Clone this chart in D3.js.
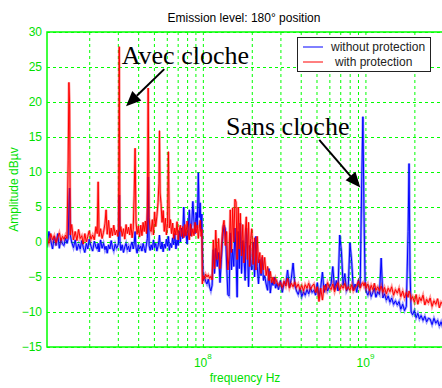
<!DOCTYPE html>
<html>
<head>
<meta charset="utf-8">
<script src="https://cdn.jsdelivr.net/npm/d3@7"></script>
<style>
  body { margin: 0; background: #fff; }
  svg { display: block; font-family: "Liberation Sans", Arial, sans-serif; }
</style>
</head>
<body>
<div id="chart"></div>
<script>

// frequency grid in MHz, shared by both traces
const freqMHz = [
  11.0, 11.3, 11.6, 11.9, 12.2, 12.5, 12.8, 13.1, 13.4, 13.7,
  14.0, 14.3, 14.6, 14.85, 15.0, 15.15, 15.3, 15.6, 16.0, 16.4,
  16.8, 17.2, 17.6, 18.0, 18.4, 18.8, 19.2, 19.6, 20.0, 20.5,
  21.0, 21.5, 22.0, 22.4, 22.7, 23.0, 23.5, 24.0, 24.5, 25.0,
  25.4, 25.8, 26.3, 26.8, 27.3, 27.8, 28.3, 28.9, 29.5, 30.0,
  30.3, 30.6, 30.9, 31.3, 31.9, 32.5, 33.1, 33.7, 34.3, 34.9,
  35.5, 36.1, 36.7, 37.3, 37.8, 38.3, 38.8, 39.4, 40.1, 40.8,
  41.5, 42.2, 42.9, 43.6, 44.3, 45.0, 45.6, 46.1, 46.7, 47.4,
  48.1, 48.9, 49.7, 50.5, 51.3, 52.1, 53.0, 53.7, 54.1, 54.6,
  55.3, 56.1, 57.0, 57.9, 58.8, 59.7, 60.6, 61.4, 62.2, 63.2,
  64.2, 65.2, 66.2, 67.2, 68.3, 69.4, 70.5, 71.6, 72.7, 73.9,
  75.1, 76.3, 77.5, 78.7, 80.0, 81.3, 82.6, 84.0, 85.4, 86.8,
  88.2, 89.6, 91.0, 92.4, 93.8, 95.0, 96.3, 97.5, 98.6, 99.3,
  100.5, 102, 104, 106, 108, 110, 112, 114, 116, 118,
  120, 122.5, 125, 127.5, 130, 132.5, 135, 137.5, 140, 142.5,
  145, 147.5, 150, 152.5, 155, 157.5, 160, 162.5, 165, 167.5,
  170, 173, 176, 179, 182, 185, 188, 191, 194, 197,
  200, 204, 208, 212, 216, 220, 224, 228, 232, 236,
  240, 245, 250, 255, 260, 265, 270, 275, 280, 286,
  292, 300, 308, 316, 324, 332, 341, 350, 359, 368,
  377, 386, 396, 406, 416, 426, 437, 448, 459, 470,
  482, 494, 506, 518, 531, 544, 557, 571, 585, 600,
  615, 630, 646, 662, 678, 695, 712, 729, 747, 765,
  784, 803, 823, 843, 864, 885, 906, 928, 950, 965,
  980, 995, 1010, 1035, 1060, 1085, 1110, 1135, 1160, 1190,
  1220, 1250, 1280, 1310, 1345, 1380, 1415, 1450, 1490, 1530,
  1570, 1610, 1650, 1695, 1740, 1785, 1830, 1855, 1880, 1910,
  1950, 2000, 2050, 2100, 2150, 2200, 2260, 2320, 2380, 2440,
  2500, 2570, 2640, 2710, 2780, 2850, 2920, 3000
];

// amplitude dBuV, blue trace
const withoutProtection = [
  -0.8, 1.5, 0.2, -1.0, 0.8, -0.5, 1.2, -0.9, 0.5, -0.3,
  -0.5, 0.6, -0.2, 0.5, 5.0, 7.7, 1.0, 0.0, -0.8, 0.3,
  -1.2, -0.3, -1.0, 0.2, -0.8, -1.5, -0.2, -1.0, 0.4, -0.6,
  -1.3, 0.1, -0.7, -1.0, -0.2, -1.4, 0.3, -0.9, -0.2, -1.1,
  -0.6, -1.6, -0.4, -1.0, 0.2, -0.8, -1.3, -0.3, -0.9, -0.5,
  -0.2, 6.7, 0.1, -1.2, -0.4, -1.5, -0.7, -0.2, -1.1, -0.6,
  -1.4, -0.5, 0.0, -1.0, -0.3, 1.5, -0.8, -1.6, -0.4, -1.0,
  -0.6, -1.3, -0.2, -0.9, -1.5, -0.3, 0.5, 9.3, -0.5, -1.2,
  -0.4, -1.1, 0.3, -0.8, -0.2, -1.3, -0.6, 0.2, 1.0, -0.5,
  -1.0, 0.0, -1.4, -0.3, -0.9, 0.4, -0.6, 0.8, -1.2, -0.2,
  -0.8, 0.6, -0.4, 1.2, -1.0, 0.3, -0.5, 1.6, 0.0, 2.0,
  0.5, 5.0, 0.8, 1.5, -0.3, 2.0, 4.6, 0.9, 2.5, 5.8,
  3.0, 1.2, 4.2, 2.0, 9.9, 3.5, 5.6, 1.5, 4.0, -1.0,
  -5.5, -4.9, -5.6, -6.0, -5.3, -6.4, -7.0, -6.2, -1.1, -4.5,
  -0.9, -3.5, -1.5, -5.8, -2.5, 0.8, 2.4, 1.9, -3.0, -7.5,
  -7.7, 1.3, -4.0, -1.0, -3.5, 2.0, -2.0, -7.9, 1.5, -3.8,
  2.7, -4.5, 0.2, -2.0, -5.5, 2.0, -1.0, -6.4, -0.5, -3.0,
  -4.0, 0.0, -5.0, 0.8, -3.5, -6.0, -2.5, -4.8, -2.2, -5.5,
  -4.8, -6.0, -6.9, -3.8, -7.3, -5.5, -6.2, -5.0, -6.6, -5.9,
  -6.8, -5.5, -7.2, -5.8, -6.0, -4.0, -6.5, -5.2, -3.0, -6.2,
  -7.0, -7.5, -6.6, -7.8, -7.1, -7.6, -6.8, -7.4, -6.5, -7.2,
  -6.9, -7.6, -5.8, -7.8, -6.5, -4.3, -7.2, -6.0, -7.0, -6.4,
  -6.0, -3.5, -6.8, -5.5, -7.0, 1.0, -1.4, -6.2, -4.5, -7.0,
  -6.5, -0.1, -2.8, -6.9, -6.0, -7.2, -5.4, -6.5, 9.3, 17.9,
  4.0, -5.5, -7.0, -7.6, -6.8, -7.8, -7.2, -6.6, -7.9, -7.1,
  -7.5, -2.3, -8.0, -7.4, -8.3, -7.7, -8.6, -8.0, -8.9, -8.4,
  -9.0, -8.5, -9.6, -8.9, -9.8, -9.2, 1.5, 11.2, -4.0, -10.0,
  -10.4, -9.8, -10.8, -10.2, -11.0, -10.5, -11.2, -10.6, -11.4, -10.9,
  -11.0, -11.8, -10.9, -11.6, -11.2, -12.0, -11.4, -12.3
];

// amplitude dBuV, red trace
const withProtection = [
  0.5, -0.2, 1.2, 0.3, 0.9, -0.1, 0.6, 1.3, 0.2, 0.8,
  0.4, 1.0, 0.5, 11.7, 22.8, 19.8, 1.0, 2.5, 0.3, 1.5,
  0.2, 1.8, 0.5, 0.9, -0.3, 1.2, 0.0, 0.8, 1.6, 0.4,
  1.0, 0.3, 2.2, 1.2, 8.6, 0.8, 1.9, 0.5, 1.4, 2.6,
  4.6, 1.1, 3.1, 0.6, 2.0, 0.9, 2.4, 1.0, 1.7, 0.8,
  2.0, 27.9, 1.5, 2.2, 0.8, 1.9, 0.4, 2.5, 1.2, 2.1,
  1.0, 2.6, 0.6, 1.8, 6.7, 13.4, 2.9, 1.1, 2.3, 0.7,
  2.4, 0.9, 2.8, 1.5, 3.0, 1.2, 5.0, 22.0, 3.5, 1.8,
  1.5, 3.2, 1.0, 4.3, 2.2, 3.6, 5.6, 8.4, 15.9, 7.0,
  5.5, 2.8, 4.5, 1.5, 3.4, 1.0, 2.6, 12.9, 2.0, 3.2,
  1.2, 2.7, 0.5, 2.0, 1.0, 2.9, 0.3, 1.7, 2.4, 0.8,
  2.2, 0.6, 2.5, 0.9, 3.0, 1.4, 0.3, 2.6, 0.8, 1.9,
  0.9, 2.8, 1.3, 2.4, 0.5, 2.0, 3.1, 0.8, 1.8, -6.0,
  -4.8, -5.3, -4.6, -5.0, -4.7, -5.2, -4.9, -5.4, 0.3, -3.8,
  1.7, -2.5, 0.5, -3.8, -1.0, 2.0, 3.1, -0.5, 1.5, -4.0,
  -2.0, 4.6, -1.5, 4.9, 0.0, 6.1, 5.7, -2.5, 5.0, -1.0,
  4.1, -2.0, 2.5, -3.0, 1.0, 3.6, -2.5, 2.8, -3.5, 0.5,
  1.9, -3.2, 0.6, -4.0, 0.8, -3.0, -1.5, -4.5, -1.9, -4.0,
  -2.2, -4.8, -3.5, -5.5, -4.2, -5.8, -5.0, -6.0, -5.2, -5.8,
  -6.2, -5.8, -6.5, -5.6, -6.3, -5.2, -6.6, -5.9, -6.4, -5.7,
  -6.5, -6.0, -6.8, -6.2, -7.0, -6.1, -6.6, -5.9, -6.8, -6.3,
  -6.0, -7.2, -6.4, -8.5, -6.6, -8.3, -6.2, -6.9, -5.8, -6.5,
  -6.8, -6.0, -7.1, -6.3, -5.8, -6.9, -6.2, -6.6, -5.9, -6.8,
  -6.4, -6.9, -6.1, -7.0, -6.5, -6.2, -5.6, -6.6, -6.0, -5.8,
  -6.3, -5.8, -6.6, -6.0, -7.0, -6.2, -6.8, -5.9, -6.9, -6.4,
  -7.0, -6.3, -7.2, -6.5, -7.4, -6.6, -7.1, -6.4, -7.6, -6.8,
  -7.3, -6.6, -7.8, -7.0, -8.0, -7.2, -7.9, -7.0, -7.4, -8.2,
  -7.8, -8.6, -7.5, -8.9, -7.9, -8.4, -7.6, -9.0, -8.2, -8.7,
  -8.0, -9.2, -8.4, -8.9, -8.1, -9.4, -8.6, -9.0
];

const seriesNames = ["without protection", "with protection"];
const seriesColors = ["#0000ff", "#ff0000"];

const yTicks = [30, 25, 20, 15, 10, 5, 0, -5, -10, -15];
const xGrid = [20, 30, 40, 50, 60, 70, 80, 90, 100, 200, 300, 400, 500, 600, 700, 800, 900, 1000, 2000];
const xLabels = [{ f: 100, exp: "8" }, { f: 1000, exp: "9" }];

// annotation text position and arrow ends, in MHz / dBuV
const notes = [
  { text: "Avec cloche", at: [31.7, 25.5], from: [57.9, 24.7], to: [33.7, 19.4] },
  { text: "Sans cloche", at: [138.8, 15.3], from: [520, 14.6], to: [930, 7.8] }
];

const width = 442, height = 388,
  margin = { top: 32, right: -1, bottom: 41, left: 47 };
const plotW = width - margin.left - margin.right,
  plotH = height - margin.top - margin.bottom;
const green = "#00ff00", textGreen = "#00e000";

const svg = d3.select("#chart")
  .append("svg")
  .attr("width", width)
  .attr("height", height);

let x = d3.scaleLog()
  .domain([11, 3000])
  .range([margin.left, width - margin.right]);

let y = d3.scaleLinear()
  .domain([-15, 30])
  .range([height - margin.bottom, margin.top]);

// vertical grid
svg.append("g")
  .attr("transform", `translate(0,${height - margin.bottom})`)
  .call(d3.axisBottom(x).tickValues(xGrid).tickSize(-plotH).tickFormat(() => ""))
  .call(g => g.select(".domain").remove())
  .call(g => g.selectAll("line").attr("stroke", green).attr("stroke-dasharray", "3,3"));

// horizontal grid + y labels
svg.append("g")
  .attr("transform", `translate(${margin.left},0)`)
  .call(d3.axisLeft(y).tickValues(yTicks).tickSize(-plotW).tickPadding(5))
  .attr("font-size", 12)
  .attr("font-family", null)
  .call(g => g.select(".domain").remove())
  .call(g => g.selectAll("line").attr("stroke", green).attr("stroke-dasharray", "3,3"))
  .call(g => g.selectAll("text").attr("fill", textGreen));

// x labels 10^8, 10^9
const xl = svg.append("g").attr("fill", textGreen).attr("font-size", 12);
for (let d of xLabels) {
  const t = xl.append("text")
    .attr("x", x(d.f))
    .attr("y", 367)
    .attr("text-anchor", "middle");
  t.append("tspan").text("10");
  t.append("tspan").attr("font-size", 8).attr("dy", -8).text(d.exp);
}

// traces
svg.append("clipPath").attr("id", "plot")
  .append("rect")
  .attr("x", margin.left).attr("y", margin.top)
  .attr("width", plotW).attr("height", plotH);

const traces = [withoutProtection, withProtection];
let line = d3.line()
  .x(d => x(d[0]))
  .y(d => y(d[1]));

const plot = svg.append("g").attr("clip-path", "url(#plot)");
traces.forEach((amp, i) => {
  const pts = d3.zip(freqMHz, amp);
  plot.append("path")
    .datum(pts)
    .attr("d", line)
    .attr("fill", "none")
    .attr("stroke", seriesColors[i])
    .attr("stroke-opacity", 0.4)
    .attr("stroke-width", 2.6);
  plot.append("path")
    .datum(pts)
    .attr("d", line)
    .attr("fill", "none")
    .attr("stroke", seriesColors[i])
    .attr("stroke-width", 1);
});

// frame
svg.append("rect")
  .attr("x", margin.left).attr("y", margin.top)
  .attr("width", plotW).attr("height", plotH)
  .attr("fill", "none")
  .attr("stroke", green)
  .attr("stroke-width", 1.5);

// titles
svg.append("text")
  .attr("x", 244).attr("y", 21.5)
  .attr("text-anchor", "middle")
  .attr("font-size", 12)
  .text("Emission level: 180° position");

svg.append("text")
  .attr("x", 245).attr("y", 382)
  .attr("text-anchor", "middle")
  .attr("font-size", 12)
  .attr("fill", textGreen)
  .text("frequency Hz");

svg.append("text")
  .attr("transform", `translate(18,${(margin.top + height - margin.bottom) / 2}) rotate(-90)`)
  .attr("text-anchor", "middle")
  .attr("font-size", 12)
  .attr("fill", textGreen)
  .text("Amplitude dBµv");

// legend
const lg = svg.append("g");
lg.append("rect")
  .attr("x", 297.5).attr("y", 37.5)
  .attr("width", 133).attr("height", 34)
  .attr("fill", "#fff")
  .attr("stroke", "#222");
seriesNames.forEach((name, i) => {
  const ly = 47 + i * 15;
  lg.append("line")
    .attr("x1", 303).attr("x2", 323)
    .attr("y1", ly).attr("y2", ly)
    .attr("stroke", seriesColors[i]);
  lg.append("text")
    .attr("x", i === 0 ? 331 : 335)
    .attr("y", ly + 4)
    .attr("font-size", 12)
    .attr("fill", "#222")
    .text(name);
});

// annotations with arrows
const ann = svg.append("g");
for (let n of notes) {
  ann.append("text")
    .attr("x", x(n.at[0])).attr("y", y(n.at[1]))
    .attr("font-family", "'Liberation Serif', 'Times New Roman', serif")
    .attr("font-size", 26)
    .text(n.text);

  const x0 = x(n.from[0]), y0 = y(n.from[1]),
    x1 = x(n.to[0]), y1 = y(n.to[1]);
  const a = Math.atan2(y1 - y0, x1 - x0);
  const headLen = 15, headW = 6.5;
  const bx = x1 - headLen * Math.cos(a), by = y1 - headLen * Math.sin(a);
  ann.append("line")
    .attr("x1", x0).attr("y1", y0)
    .attr("x2", bx).attr("y2", by)
    .attr("stroke", "#000")
    .attr("stroke-width", 2);
  ann.append("path")
    .attr("d", `M${x1},${y1}L${bx + headW * Math.sin(a)},${by - headW * Math.cos(a)}L${bx - headW * Math.sin(a)},${by + headW * Math.cos(a)}Z`)
    .attr("fill", "#000");
}

</script>
</body>
</html>
